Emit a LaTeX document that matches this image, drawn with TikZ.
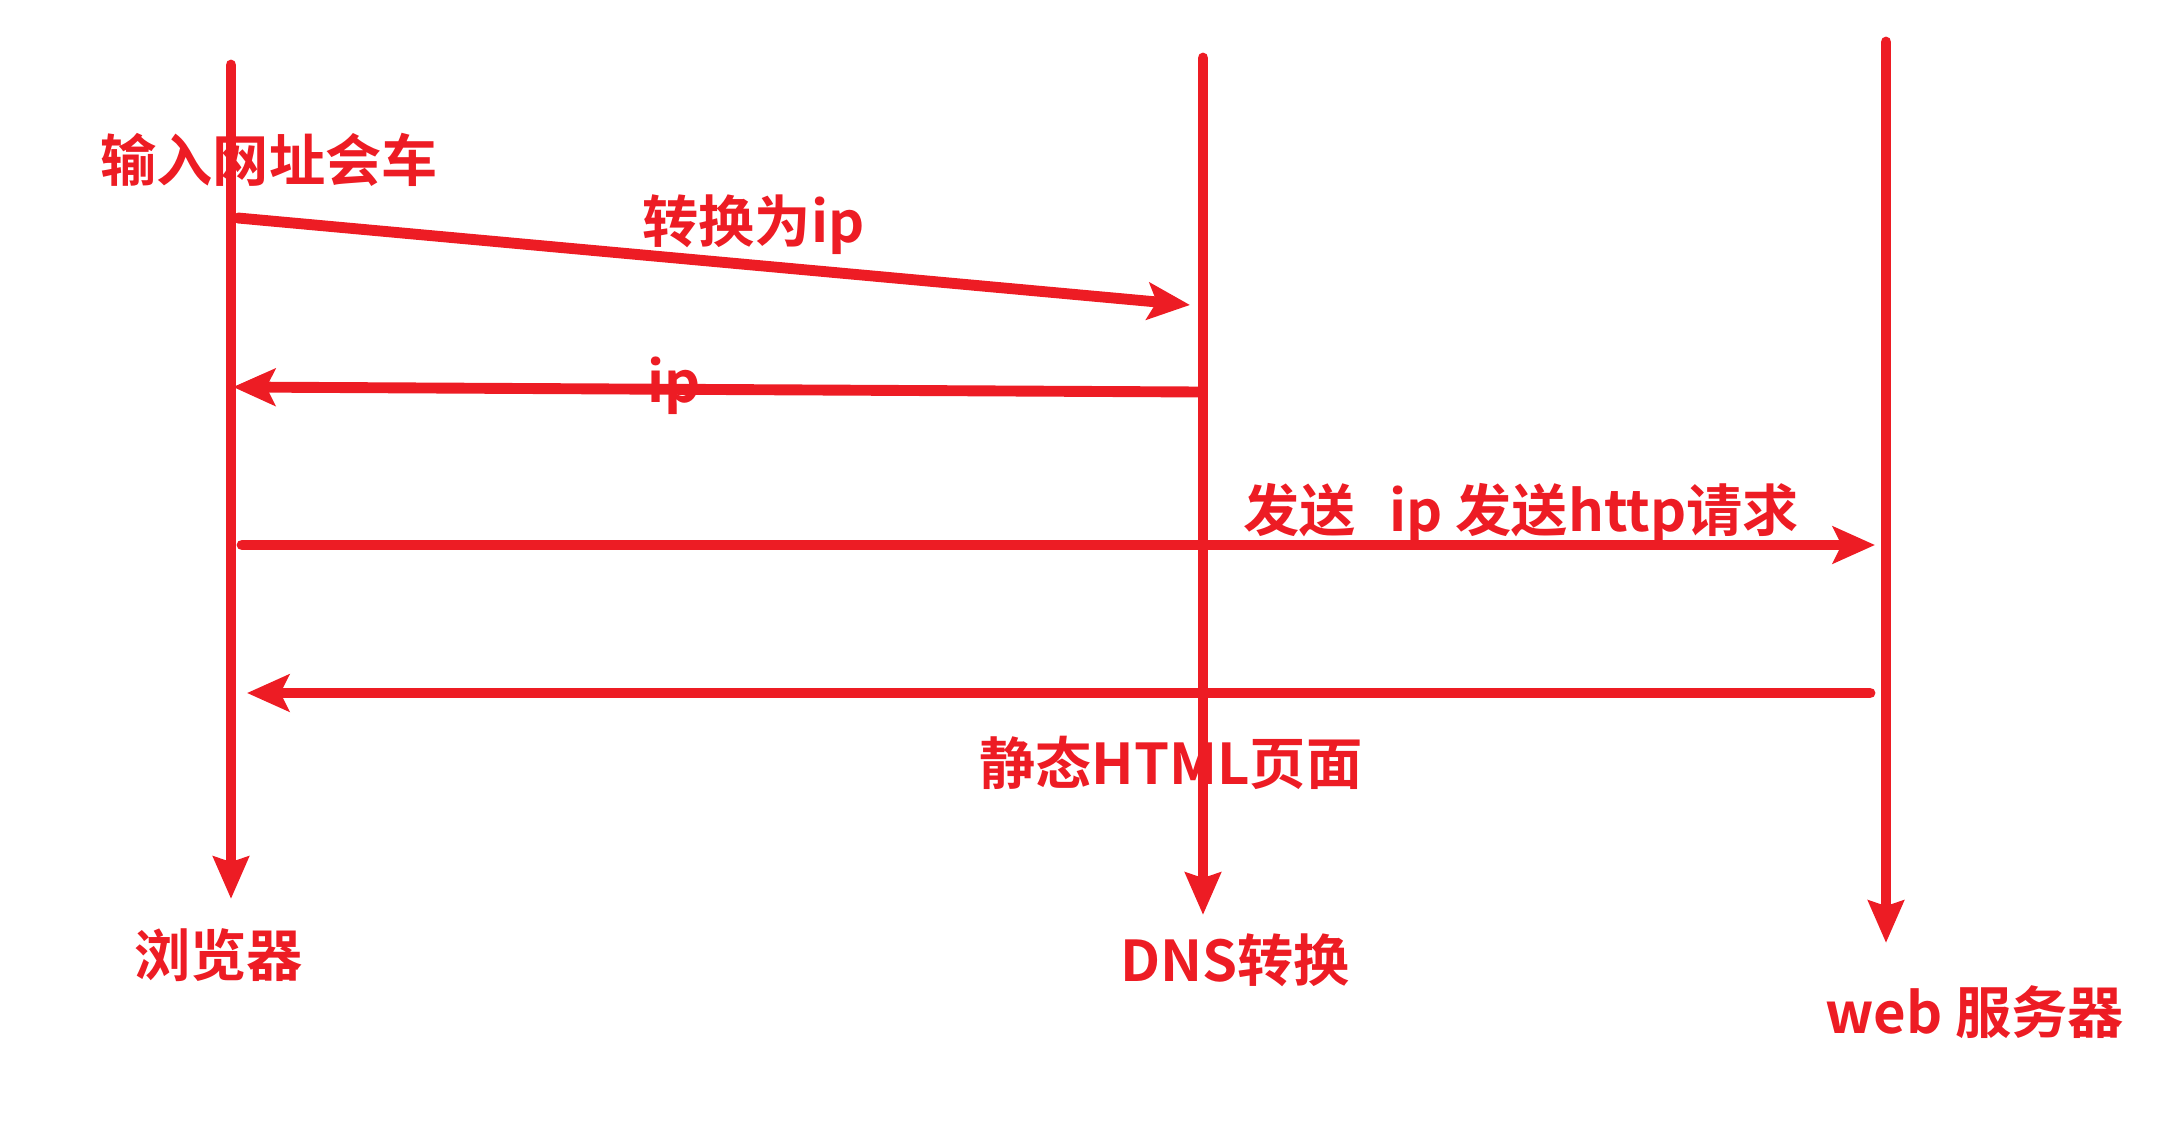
\documentclass[tikz,border=0pt]{standalone}
\usepackage{fontspec}
\newfontfamily\cjk{Noto Sans CJK SC Bold}
\usetikzlibrary{arrows.meta}

\definecolor{paintred}{HTML}{ED1C24}

\begin{document}
\begin{tikzpicture}[
    x=0.02cm,
    y=-0.02cm,
    line cap=round,
    line join=round,
    lifeline/.style={
        draw=paintred,
        line width=6.2pt,
        -{Stealth[length=24pt,width=20pt,inset=3pt]}
    },
    message/.style={
        draw=paintred,
        line width=6.2pt,
        -{Stealth[length=24pt,width=21pt,inset=5pt]}
    },
    label/.style={
        text=paintred,
        font=\cjk\fontsize{32pt}{36pt}\selectfont,
        inner sep=0pt
    }
]

\useasboundingbox (0,0) rectangle (2174,1125);

% -------------------------------------------------
% Lifelines: browser, DNS, web server
% -------------------------------------------------

\coordinate (br-top) at (231,65);
\coordinate (br-bot) at (231,899);
\coordinate (dns-top) at (1203,58);
\coordinate (dns-bot) at (1203,915);
\coordinate (web-top) at (1886,42);
\coordinate (web-bot) at (1886,943);

\draw[lifeline] (br-top) -- (br-bot);
\draw[lifeline] (dns-top) -- (dns-bot);
\draw[lifeline] (web-top) -- (web-bot);

% -------------------------------------------------
% Messages
% -------------------------------------------------

\coordinate (m1-from) at (238,218);
\coordinate (m1-to) at (1190,305);
\coordinate (m2-from) at (1199,392);
\coordinate (m2-to) at (233,387);
\coordinate (m3-from) at (242,545);
\coordinate (m3-to) at (1875,545);
\coordinate (m4-from) at (1870,693);
\coordinate (m4-to) at (247,693);

\draw[message] (m1-from) -- (m1-to);
\draw[message] (m2-from) -- (m2-to);
\draw[message] (m3-from) -- (m3-to);
\draw[message] (m4-from) -- (m4-to);

% -------------------------------------------------
% Labels
% -------------------------------------------------

\node[label,anchor=west] (enter) at (100,160) {输入网址会车};
\node[label,anchor=west] (toip) at (642,225) {转换为ip};
\node[label,anchor=west] (ipback) at (647,386) {ip};
\node[label,anchor=west] (send) at (1243,513) {发送\hspace{0.6em}ip 发送http请求};
\node[label,anchor=west] (html) at (979,763) {静态HTML页面};

\node[label,anchor=west] (browser) at (134,955) {浏览器};
\node[label,anchor=west] (dns) at (1120,960) {DNS转换};
\node[label,anchor=west] (web) at (1825,1012) {web 服务器};

\end{tikzpicture}
\end{document}
